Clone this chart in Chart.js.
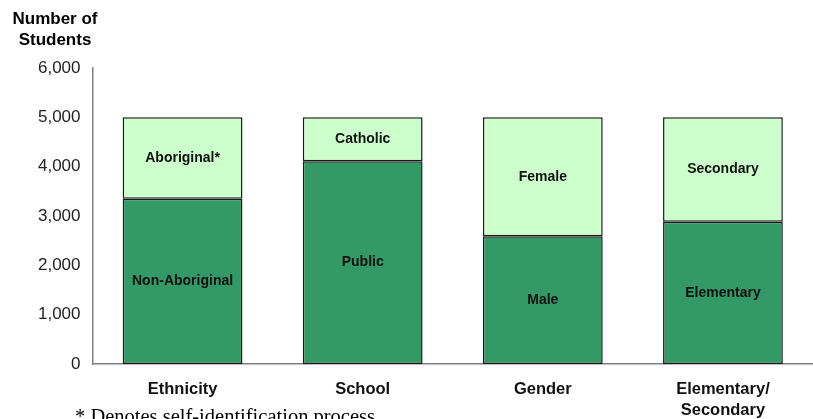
<!DOCTYPE html>
<html>
<head>
<meta charset="utf-8">
<script src="https://cdn.jsdelivr.net/npm/chart.js@4/dist/chart.umd.min.js"></script>
<style>
  html, body { margin: 0; padding: 0; background: #fff; }
  #wrap { width: 813px; height: 419px; position: relative; }
</style>
</head>
<body>
<div id="wrap"><canvas id="studentsChart"></canvas></div>
<script>
// chart data
const categories = ['Ethnicity', 'School', 'Gender', ['Elementary/', 'Secondary']];
const lowerValues = [3350, 4110, 2590, 2885];
const upperValues = [1650, 890, 2410, 2115];
const lowerNames = ['Non-Aboriginal', 'Public', 'Male', 'Elementary'];
const upperNames = ['Aboriginal*', 'Catholic', 'Female', 'Secondary'];
const yTicks = [0, 1000, 2000, 3000, 4000, 5000, 6000];

// draws the segment names in the middle of each bar piece
const segmentLabels = {
  id: 'segmentLabels',
  afterDatasetsDraw(chart) {
    const ctx = chart.ctx;
    ctx.save();
    ctx.font = 'bold 14px "Liberation Sans", Arial, sans-serif';
    ctx.fillStyle = '#111';
    ctx.textAlign = 'center';
    ctx.textBaseline = 'middle';
    chart.data.datasets.forEach((ds, i) => {
      chart.getDatasetMeta(i).data.forEach((bar, j) => {
        const p = bar.getProps(['x', 'y', 'base'], true);
        ctx.fillText(ds.names[j], p.x, (p.y + p.base) / 2);
      });
    });
    ctx.restore();
  }
};

// axis title in the corner and the footnote
const extraText = {
  id: 'extraText',
  afterDraw(chart) {
    const ctx = chart.ctx;
    ctx.save();
    ctx.fillStyle = '#000';
    ctx.textAlign = 'center';
    ctx.textBaseline = 'middle';
    ctx.font = 'bold 17px "Liberation Sans", Arial, sans-serif';
    ctx.fillText('Number of', 55, 19);
    ctx.fillText('Students', 55, 40);
    ctx.textAlign = 'left';
    ctx.textBaseline = 'alphabetic';
    ctx.font = '20.5px "Liberation Serif", "Times New Roman", serif';
    ctx.fillText('* Denotes self-identification process', 75, 423);
    ctx.restore();
  }
};

const ctx = document.getElementById('studentsChart').getContext('2d');
window.studentsChart = new Chart(ctx, {
  type: 'bar',
  data: {
    labels: categories,
    datasets: [
      {
        label: 'Lower',
        data: lowerValues,
        names: lowerNames,
        backgroundColor: '#339966',
        borderColor: '#1a1a1a',
        borderWidth: 1.5,
        borderSkipped: false
      },
      {
        label: 'Upper',
        data: upperValues,
        names: upperNames,
        backgroundColor: '#ccffcc',
        borderColor: '#1a1a1a',
        borderWidth: 1.5,
        borderSkipped: false
      }
    ]
  },
  options: {
    responsive: true,
    maintainAspectRatio: false,
    animation: false,
    categoryPercentage: 1,
    barPercentage: 0.665,
    layout: { padding: { top: 68, left: 0, right: 0, bottom: 0 } },
    plugins: {
      legend: { display: false },
      tooltip: { enabled: false }
    },
    scales: {
      x: {
        stacked: true,
        grid: { display: false, drawTicks: false },
        border: { color: '#808080', width: 1.5 },
        ticks: {
          color: '#111',
          padding: 15,
          font: { family: '"Liberation Sans", Arial, sans-serif', size: 16.5, weight: 'bold', lineHeight: 1.27 }
        },
        afterFit(scale) { scale.height = 55; }
      },
      y: {
        stacked: true,
        min: 0,
        max: 6000,
        grid: { display: false, drawTicks: false },
        border: { color: '#808080', width: 1.5 },
        afterBuildTicks(scale) { scale.ticks = yTicks.map(v => ({ value: v })); },
        ticks: {
          color: '#222',
          padding: 12,
          font: { family: '"Liberation Sans", Arial, sans-serif', size: 17 },
          callback: v => v.toLocaleString('en-US')
        },
        afterFit(scale) { scale.width = 92.5; }
      }
    }
  },
  plugins: [segmentLabels, extraText]
});
</script>
</body>
</html>
